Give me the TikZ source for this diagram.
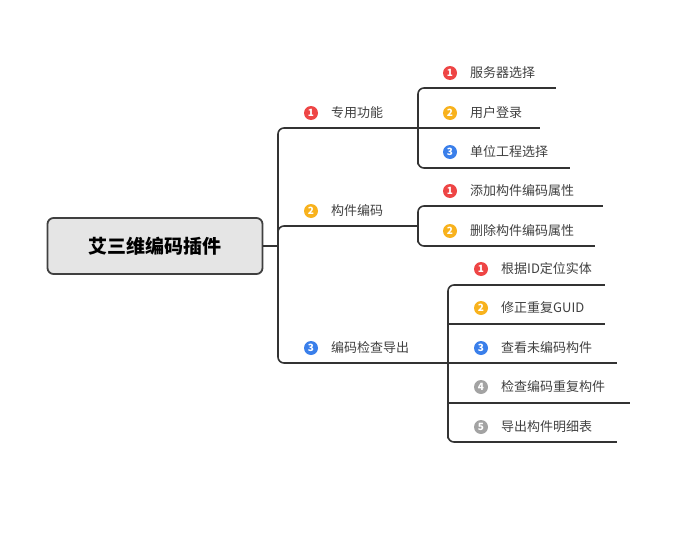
\documentclass[tikz,border=0pt]{standalone}
\usepackage{fontspec}
\setmainfont{Noto Sans CJK SC}
\begin{document}
\begin{tikzpicture}[x=1pt,y=-1pt,
  ln/.style={draw=black!80,line width=1.6pt,rounded corners=6pt},
  ul/.style={draw=black!80,line width=1.6pt},
  lbl/.style={anchor=west,inner sep=0pt,font=\fontsize{13}{15}\selectfont,text=black!75},
  bd/.style={circle,fill=#1,inner sep=0pt,minimum size=14pt,text=white,font=\fontsize{10}{10}\bfseries\selectfont}]
\definecolor{cr}{HTML}{EE4545}
\definecolor{co}{HTML}{F8B21D}
\definecolor{cb}{HTML}{3A7FEA}
\definecolor{cg}{HTML}{A3A3A3}
\useasboundingbox (0,0) rectangle (681,533);
\node[draw=black!75,line width=1.8pt,fill=black!10,rounded corners=6pt,minimum width=215pt,minimum height=56pt,font=\fontsize{19}{22}\bfseries\selectfont] (root) at (155,246) {艾三维编码插件};
% level 1
\coordinate (t1) at (278,128); \coordinate (t3) at (278,363);
\draw[ln] (root.east) -- (278,246);
\draw[ln] (t1) ++(15,0) -| (278,300) |- (293,363);
\draw[ln] (278,240) |- (293,226);
\draw[ul] (293,128) -- (418,128);
\draw[ul] (293,226) -- (418,226);
\draw[ul] (293,363) -- (448,363);
\node[bd=cr] (b1) at (311,113) {1}; \node[lbl] (a1) at (331,113) {专用功能};
\node[bd=co] (b2) at (311,211) {2}; \node[lbl] (a2) at (331,211) {构件编码};
\node[bd=cb] (b3) at (311,348) {3}; \node[lbl] (a3) at (331,348) {编码检查导出};
% group 1
\draw[ln] (432,88) -| (418,168) -- (418,168) |- (432,168);
\draw[ul] (432,88) -- (556,88); \draw[ul] (418,128) -- (540,128); \draw[ul] (432,168) -- (570,168);
\node[bd=cr] at (450,73) {1}; \node[lbl] (c11) at (470,73) {服务器选择};
\node[bd=co] at (450,113) {2}; \node[lbl] (c12) at (470,113) {用户登录};
\node[bd=cb] at (450,152) {3}; \node[lbl] (c13) at (470,152) {单位工程选择};
% group 2
\draw[ln] (432,206) -| (418,246) |- (432,246);
\draw[ul] (432,206) -- (603,206); \draw[ul] (432,246) -- (595,246);
\node[bd=cr] at (450,191) {1}; \node[lbl] (c21) at (470,191) {添加构件编码属性};
\node[bd=co] at (450,231) {2}; \node[lbl] (c22) at (470,231) {删除构件编码属性};
% group 3
\draw[ln] (462,285) -| (448,442) |- (462,442);
\draw[ul] (462,285) -- (605,285); \draw[ul] (448,324) -- (605,324); \draw[ul] (448,363) -- (617,363);
\draw[ul] (448,403) -- (630,403); \draw[ul] (462,442) -- (617,442);
\node[bd=cr] at (481,269) {1}; \node[lbl] (c31) at (501,269) {根据ID定位实体};
\node[bd=co] at (481,308) {2}; \node[lbl] (c32) at (501,308) {修正重复GUID};
\node[bd=cb] at (481,348) {3}; \node[lbl] (c33) at (501,348) {查看未编码构件};
\node[bd=cg] at (481,387) {4}; \node[lbl] (c34) at (501,387) {检查编码重复构件};
\node[bd=cg] at (481,427) {5}; \node[lbl] (c35) at (501,427) {导出构件明细表};
\end{tikzpicture}
\end{document}
